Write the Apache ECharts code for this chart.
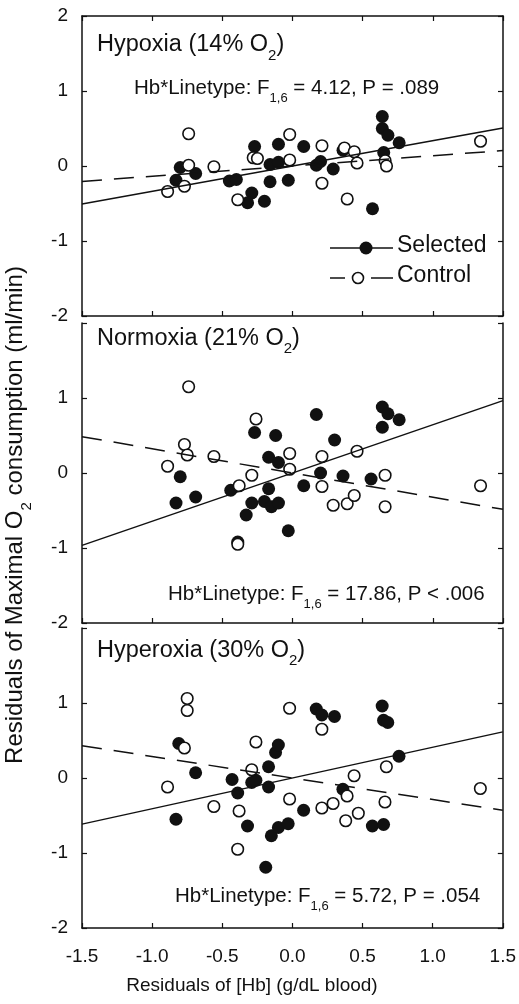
<!DOCTYPE html>
<html>
<head>
<meta charset="utf-8">
<script src="https://cdn.jsdelivr.net/npm/echarts@6/dist/echarts.min.js"></script>
<style>
  html, body { margin: 0; padding: 0; background: #fff; }
  #chart { width: 519px; height: 1004px; }
</style>
</head>
<body>
<div id="chart"></div>
<script>
// Residuals of maximal O2 consumption vs residuals of [Hb], three O2 conditions
const panelNames = ['Hypoxia', 'Normoxia', 'Hyperoxia'];
const panelO2 = ['14%', '21%', '30%'];
const xTicks = [-1.5, -1.0, -0.5, 0.0, 0.5, 1.0, 1.5];
const yTicks = [-2, -1, 0, 1, 2];

const hypoxiaSelected = [
  [-0.83, -0.19], [-0.80, -0.02], [-0.69, -0.10], [-0.45, -0.20], [-0.40, -0.18],
  [-0.29, -0.36], [-0.32, -0.49], [-0.27, 0.26], [-0.20, -0.47], [-0.16, 0.02],
  [-0.10, 0.05], [-0.16, -0.21], [-0.10, 0.29], [-0.03, -0.19], [0.08, 0.26],
  [0.17, 0.01], [0.20, 0.06], [0.29, -0.04], [0.36, 0.21], [0.57, -0.57],
  [0.64, 0.66], [0.64, 0.50], [0.68, 0.41], [0.76, 0.31], [0.65, 0.18]
];
const hypoxiaControl = [
  [-0.89, -0.34], [-0.77, -0.27], [-0.74, 0.01], [-0.74, 0.43], [-0.56, -0.01],
  [-0.39, -0.45], [-0.28, 0.11], [-0.25, 0.10], [-0.02, 0.42], [-0.02, 0.08],
  [0.21, 0.27], [0.21, -0.23], [0.37, 0.24], [0.44, 0.19], [0.46, 0.04],
  [0.39, -0.44], [0.66, 0.07], [0.67, 0.00], [1.34, 0.33]
];
const normoxiaSelected = [
  [-0.83, -0.40], [-0.80, -0.05], [-0.69, -0.32], [-0.44, -0.23], [-0.39, -0.92],
  [-0.33, -0.56], [-0.29, -0.40], [-0.27, 0.54], [-0.20, -0.38], [-0.17, 0.21],
  [-0.17, -0.21], [-0.15, -0.45], [-0.12, 0.50], [-0.10, 0.14], [-0.10, -0.40],
  [-0.03, -0.77], [0.08, -0.17], [0.17, 0.78], [0.20, 0.00], [0.30, 0.44],
  [0.36, -0.04], [0.56, -0.08], [0.64, 0.88], [0.68, 0.79], [0.76, 0.71], [0.64, 0.61]
];
const normoxiaControl = [
  [-0.89, 0.09], [-0.77, 0.38], [-0.75, 0.24], [-0.74, 1.15], [-0.56, 0.22],
  [-0.38, -0.17], [-0.39, -0.95], [-0.29, -0.03], [-0.26, 0.72], [-0.02, 0.26],
  [-0.02, 0.05], [0.21, 0.22], [0.21, -0.18], [0.29, -0.43], [0.39, -0.41],
  [0.44, -0.30], [0.46, 0.29], [0.66, -0.03], [0.66, -0.45], [1.34, -0.17]
];
const hyperoxiaSelected = [
  [-0.81, 0.46], [-0.83, -0.55], [-0.69, 0.07], [-0.43, -0.02], [-0.39, -0.20],
  [-0.32, -0.64], [-0.29, -0.06], [-0.26, -0.03], [-0.17, -0.12], [-0.17, 0.15],
  [-0.12, 0.34], [-0.10, 0.44], [-0.19, -1.19], [-0.15, -0.77], [-0.10, -0.66],
  [-0.03, -0.61], [0.08, -0.43], [0.17, 0.92], [0.21, 0.84], [0.30, 0.82],
  [0.36, -0.15], [0.57, -0.64], [0.65, -0.62], [0.64, 0.96], [0.65, 0.77],
  [0.68, 0.74], [0.76, 0.29]
];
const hyperoxiaControl = [
  [-0.75, 1.06], [-0.75, 0.90], [-0.77, 0.40], [-0.89, -0.12], [-0.56, -0.38],
  [-0.26, 0.48], [-0.29, 0.11], [-0.38, -0.44], [-0.39, -0.95], [-0.02, 0.93],
  [-0.02, -0.28], [0.21, 0.65], [0.21, -0.40], [0.29, -0.34], [0.39, -0.24],
  [0.38, -0.57], [0.47, -0.47], [0.44, 0.03], [0.67, 0.15], [0.66, -0.32], [1.34, -0.14]
];

// regression fits per panel: [intercept, slope]
const selectedFits = [[0.0, 0.337], [0.0, 0.643], [0.0, 0.41]];
const controlFits = [[0.0, 0.137], [0.0, -0.323], [0.0, -0.287]];

// interaction test per panel
const statF = ['4.12', '17.86', '5.72'];
const statP = ['= .089', '< .006', '= .054'];

const selectedSets = [hypoxiaSelected, normoxiaSelected, hyperoxiaSelected];
const controlSets = [hypoxiaControl, normoxiaControl, hyperoxiaControl];

const FONT = '"Liberation Sans", Arial, Helvetica, sans-serif';
const INK = '#111';
const gridTops = [16, 323, 628];
const gridH = 300, gridLeft = 82, gridRight = 16;
const xMin = xTicks[0], xMax = xTicks[xTicks.length - 1];

const chart = echarts.init(document.getElementById('chart'), null, { renderer: 'canvas' });

const grid = gridTops.map(t => ({ left: gridLeft, right: gridRight, top: t, height: gridH }));

const axisLineStyle = { show: true, onZero: false, lineStyle: { color: INK, width: 1.5 } };
const tickStyle = { show: true, inside: true, length: 5, lineStyle: { color: INK, width: 1.2 } };

const xAxis = [];
const yAxis = [];
gridTops.forEach((t, i) => {
  xAxis.push({
    type: 'value', gridIndex: i, position: 'bottom',
    min: xMin, max: xMax, interval: 0.5,
    axisLine: axisLineStyle, axisTick: tickStyle, splitLine: { show: false },
    axisLabel: {
      show: i === 2, margin: 19, color: INK, fontSize: 19, fontFamily: FONT,
      formatter: v => v.toFixed(1)
    }
  });
  yAxis.push({
    type: 'value', gridIndex: i, position: 'left',
    min: yTicks[0], max: yTicks[yTicks.length - 1], interval: 1,
    axisLine: axisLineStyle, axisTick: tickStyle, splitLine: { show: false },
    axisLabel: {
      show: true, margin: 14, color: INK, fontSize: 19, fontFamily: FONT,
      formatter: v => (i > 0 && v === 2) ? '' : String(v)
    }
  });
  yAxis.push({
    type: 'value', gridIndex: i, position: 'right',
    min: yTicks[0], max: yTicks[yTicks.length - 1], interval: 1,
    axisLine: axisLineStyle, axisTick: tickStyle, splitLine: { show: false },
    axisLabel: { show: false }
  });
});
// top frame of the first panel
xAxis.push({
  type: 'value', gridIndex: 0, position: 'top',
  min: xMin, max: xMax, interval: 0.5,
  axisLine: axisLineStyle, axisTick: tickStyle, splitLine: { show: false },
  axisLabel: { show: false }
});

const series = [];
gridTops.forEach((t, i) => {
  series.push({
    type: 'scatter', name: 'Selected', xAxisIndex: i, yAxisIndex: i * 2,
    data: selectedSets[i], symbol: 'circle', symbolSize: 13,
    itemStyle: { color: INK, opacity: 1 }, z: 3, silent: true
  });
  series.push({
    type: 'scatter', name: 'Control', xAxisIndex: i, yAxisIndex: i * 2,
    data: controlSets[i], symbol: 'circle', symbolSize: 11.5,
    itemStyle: { color: '#fff', borderColor: INK, borderWidth: 1.6, opacity: 1 }, z: 4, silent: true
  });
  const fitLine = (fit) => [xMin, xMax].map(x => [x, fit[0] + fit[1] * x]);
  series.push({
    type: 'line', name: 'Selected fit', xAxisIndex: i, yAxisIndex: i * 2,
    data: fitLine(selectedFits[i]), symbol: 'none', showSymbol: false,
    lineStyle: { color: INK, width: 1.5, type: 'solid' }, z: 5, silent: true
  });
  series.push({
    type: 'line', name: 'Control fit', xAxisIndex: i, yAxisIndex: i * 2,
    data: fitLine(controlFits[i]), symbol: 'none', showSymbol: false,
    lineStyle: { color: INK, width: 1.5, type: [20, 12] }, z: 5, silent: true
  });
});

// rich text with a subscript token
function richStyles(size, subSize) {
  const lh = Math.round(size * 1.2);
  return {
    n: { fontSize: size, fontFamily: FONT, lineHeight: lh, verticalAlign: 'top', fill: INK, color: INK },
    s: { fontSize: subSize, fontFamily: FONT, lineHeight: subSize, verticalAlign: 'top',
         padding: [Math.round(lh / 2 + size * 0.38 - subSize / 2), 0, 0, 0], fill: INK, color: INK }
  };
}
// text element whose main line is centred on (x, cy); rotated text runs bottom to top
function placeText(x, cy, text, size, subSize, align, rotation) {
  const lh = Math.round(size * 1.2);
  const el = {
    type: 'text', x: x, y: cy, rotation: rotation || 0, silent: true, z: 10,
    style: {
      text: text, rich: richStyles(size, subSize),
      align: align || 'left', textAlign: align || 'left',
      verticalAlign: 'top', textVerticalAlign: 'top',
      fill: INK, font: size + 'px ' + FONT
    }
  };
  if (rotation) el.x = x - lh / 2;
  else el.y = cy - lh / 2;
  return el;
}

const titleCenters = [47, 340.5, 652.5];
const statPos = [[134, 90], [168, 596.5], [175, 898.5]];

const graphic = [];
panelNames.forEach((name, i) => {
  graphic.push(placeText(97, titleCenters[i], `{n|${name} (${panelO2[i]} O}{s|2}{n|)}`, 23.5, 15, 'left'));
  graphic.push(placeText(statPos[i][0], statPos[i][1],
    `{n|Hb*Linetype: F}{s|1,6}{n| = ${statF[i]}, P ${statP[i]}}`, 20.5, 13, 'left'));
});

// legend inside the first panel
graphic.push({ type: 'line', silent: true, z: 10, shape: { x1: 330, y1: 248, x2: 393, y2: 248 },
  style: { stroke: INK, lineWidth: 1.5 } });
graphic.push({ type: 'circle', silent: true, z: 11, shape: { cx: 366, cy: 248, r: 6.5 },
  style: { fill: INK } });
graphic.push(placeText(397, 248, '{n|Selected}', 23, 14, 'left'));
graphic.push({ type: 'line', silent: true, z: 10, shape: { x1: 330, y1: 278, x2: 345, y2: 278 },
  style: { stroke: INK, lineWidth: 1.5 } });
graphic.push({ type: 'line', silent: true, z: 10, shape: { x1: 371, y1: 278, x2: 393, y2: 278 },
  style: { stroke: INK, lineWidth: 1.5 } });
graphic.push({ type: 'circle', silent: true, z: 11, shape: { cx: 358, cy: 278, r: 5.5 },
  style: { fill: '#fff', stroke: INK, lineWidth: 1.6 } });
graphic.push(placeText(397, 278, '{n|Control}', 23, 14, 'left'));

// axis titles
graphic.push(placeText(252, 987.5, '{n|Residuals of [Hb] (g/dL blood)}', 19, 12, 'center'));
graphic.push(placeText(18, 515, '{n|Residuals of Maximal O}{s|2}{n| consumption (ml/min)}', 24, 15, 'center', Math.PI / 2));

chart.setOption({
  animation: false,
  backgroundColor: '#fff',
  grid: grid,
  xAxis: xAxis,
  yAxis: yAxis,
  series: series,
  graphic: graphic
});
</script>
</body>
</html>
